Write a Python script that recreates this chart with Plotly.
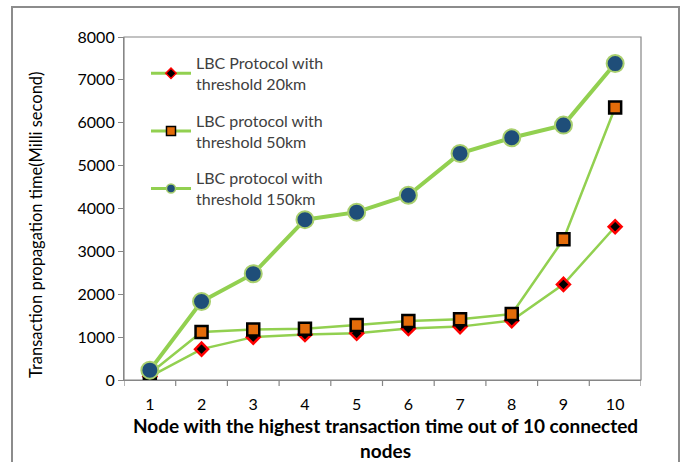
import plotly.graph_objects as go

nodes = [1, 2, 3, 4, 5, 6, 7, 8, 9, 10]
th20 = [80, 720, 1000, 1060, 1090, 1200, 1245, 1385, 2230, 3575]
th50 = [150, 1120, 1180, 1195, 1285, 1375, 1415, 1540, 3280, 6355]
th150 = [230, 1830, 2480, 3740, 3915, 4310, 5285, 5650, 5945, 7380]
names = ["LBC Protocol with<br>threshold 20km",
         "LBC protocol with<br>threshold 50km",
         "LBC protocol with<br>threshold 150km"]
y_ticks = [0, 1000, 2000, 3000, 4000, 5000, 6000, 7000, 8000]
x_title = "<b>Node with the highest transaction time out of 10 connected<br>nodes</b>"
y_title = "Transaction propagation time(Milli second)"

GREEN = "#92D050"
FONT = "Lato, 'Open Sans', sans-serif"

styles = [
    dict(symbol="diamond", color="#000000", line=dict(color="#FF0000", width=2.5)),
    dict(symbol="square", color="#E46C0A", line=dict(color="#000000", width=2.5)),
    dict(symbol="circle", color="#1F4E79", line=dict(color="#A9CF6E", width=2)),
]
sizes = [10, 12, 17]
widths = [2.5, 2.5, 4]
legend_sizes = [8, 9, 9]
legend_line_w = [1.5, 1.5, 1.5]

fig = go.Figure()
for i, ys in enumerate([th20, th50, th150]):
    st = styles[i]
    fig.add_trace(go.Scatter(
        x=nodes, y=ys, name=names[i], mode="lines+markers", showlegend=False,
        line=dict(color=GREEN, width=widths[i]),
        marker=dict(symbol=st["symbol"], size=sizes[i], color=st["color"],
                    line=st["line"])))
# legend entries
for i in range(3):
    st = styles[i]
    fig.add_trace(go.Scatter(
        x=[None], y=[None], name=names[i], mode="lines+markers",
        legendgroup=str(i), showlegend=True,
        line=dict(color=GREEN, width=3),
        marker=dict(symbol=st["symbol"], size=legend_sizes[i], color=st["color"],
                    line=dict(color=st["line"]["color"], width=legend_line_w[i]))))

W, H = 688, 462
L, R, T, B = 124, 47, 37, 82
pw, ph = W - L - R, H - T - B

def px(x):
    return (x - L) / pw

def py(y):
    return (H - B - y) / ph

fig.add_shape(type="rect", xref="paper", yref="paper",
              x0=px(12), x1=px(679), y0=py(7), y1=py(475),
              line=dict(color="#8C8C8C", width=2), fillcolor="rgba(0,0,0,0)",
              layer="below")
fig.add_shape(type="rect", xref="paper", yref="paper",
              x0=0, x1=1, y0=0, y1=1,
              line=dict(color="#868686", width=1.2), fillcolor="rgba(0,0,0,0)",
              layer="below")

# category boundary ticks on x axis
for b in [0.5 + i for i in range(11)]:
    fig.add_shape(type="line", xref="x", yref="paper", x0=b, x1=b,
                  y0=0, y1=-6 / ph, line=dict(color="#868686", width=1.2))

fig.add_annotation(text=x_title, xref="paper", yref="paper",
                   x=px(385), y=py(438), xanchor="center", yanchor="middle",
                   showarrow=False, align="center",
                   font=dict(family=FONT, size=19, color="#000000"))
fig.add_annotation(text=y_title, xref="paper", yref="paper",
                   x=px(36), y=py(225), xanchor="center", yanchor="middle",
                   showarrow=False, textangle=-90,
                   font=dict(family=FONT, size=16.5, color="#000000"))

fig.update_layout(
    width=W, height=H,
    margin=dict(l=L, r=R, t=T, b=B),
    paper_bgcolor="white", plot_bgcolor="white",
    font=dict(family=FONT, size=16, color="#404040"),
    showlegend=True,
    legend=dict(x=px(146), y=py(46), xanchor="left", yanchor="top",
                bgcolor="rgba(0,0,0,0)", traceorder="grouped",
                tracegroupgap=13, itemwidth=40,
                font=dict(family=FONT, size=16, color="#404040")),
    xaxis=dict(
        range=[0.5, 10.5], tickmode="array", tickvals=nodes,
        ticktext=[str(n) for n in nodes],
        showgrid=False, zeroline=False, showline=True,
        linecolor="#868686", linewidth=1.2,
        ticks="", ticklabelstandoff=10,
        tickfont=dict(family=FONT, size=16, color="#000000"),
    ),
    yaxis=dict(
        range=[0, 8000], tickmode="array", tickvals=y_ticks,
        ticktext=[str(v) for v in y_ticks],
        showgrid=False, zeroline=False, showline=True,
        linecolor="#868686", linewidth=1.2,
        ticks="outside", ticklen=5, tickcolor="#868686",
        tickfont=dict(family=FONT, size=16, color="#000000"),
    ),
)

fig.write_html("out.html", config={"displayModeBar": False},
               post_script="document.body.style.margin='0px';")
